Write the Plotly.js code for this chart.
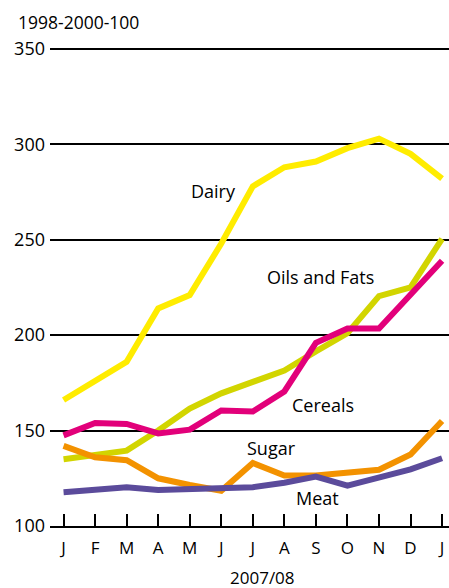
<!DOCTYPE html>
<html>
<head>
<meta charset="utf-8">
<script src="https://cdn.plot.ly/plotly-3.0.1.min.js"></script>
<style>html,body{margin:0;padding:0;background:#fff;}#chart{width:449px;height:588px;}</style>
</head>
<body>
<div id="chart"></div>
<script>
const months = ["J","F","M","A","M","J","J","A","S","O","N","D","J"];
const dairy = [166,176,186,214,221,248,278,288,291,298,303,295,282];
const oilsFats = [135,137,139.5,150,161.5,169.5,175.5,181.5,191.5,201,220.5,225,250.5];
const cereals = [147.5,154,153.5,148.5,150.5,160.5,160,170.5,196,203.5,203.5,221,239];
const sugar = [142,136,134.5,125,121.5,118.5,133,126.5,126.5,128,129.5,137.5,155];
const meat = [117.7,118.9,120.3,118.9,119.2,119.7,120.3,122.7,125.9,121.1,125,129.7,135.5];
const yTicks = [100,150,200,250,300,350];

const xIdx = months.map((m,i)=>i);
const FONT = "Open Sans, sans-serif";
function line(y, color){
  return {x:xIdx, y:y, type:'scatter', mode:'lines', line:{color:color, width:6}, hoverinfo:'skip', showlegend:false};
}
const data = [
  line(dairy,'#FFEC00'),
  line(oilsFats,'#D2D500'),
  line(sugar,'#F39200'),
  line(meat,'#5B4B9B'),
  line(cereals,'#E2007A')
];
// pixel -> paper helpers (plot area: left 50, width 399; top 47, bottom 526, height 479)
const px = p => (p-50)/399;
const py = p => (526-p)/479;
function lab(text, x, y, xa, size){
  return {text:text, xref:'paper', yref:'paper', x:px(x), y:py(y), xanchor:xa||'left', yanchor:'middle', showarrow:false, font:{family:FONT, size:size||18, color:'#000'}};
}
const layout = {
  width:449, height:588,
  margin:{l:50, r:0, t:47, b:62},
  paper_bgcolor:'#fff', plot_bgcolor:'#fff',
  font:{family:FONT, size:17, color:'#000'},
  xaxis:{
    range:[-0.43,12.22], tickmode:'array', tickvals:xIdx, ticktext:months,
    ticks:'inside', ticklen:12, tickwidth:2, tickcolor:'#000',
    showgrid:false, zeroline:false, showline:true, linecolor:'#000', linewidth:2,
    ticklabelstandoff:6, tickfont:{family:FONT, size:17, color:'#000'}
  },
  yaxis:{
    range:[100,351], tickmode:'array', tickvals:yTicks, ticktext:yTicks.map(String),
    ticks:'', showgrid:true, gridcolor:'#000', gridwidth:2, zeroline:false, showline:false,
    ticklabelstandoff:4, tickfont:{family:FONT, size:18, color:'#000'}
  },
  annotations:[
    lab('1998-2000-100', 16, 22, 'left', 17.5),
    lab('2007/08', 262, 577, 'center', 17),
    lab('Dairy', 189, 191),
    lab('Oils and Fats', 265, 277),
    lab('Cereals', 290, 405),
    lab('Sugar', 245, 448),
    lab('Meat', 294, 498)
  ]
};
Plotly.newPlot('chart', data, layout, {staticPlot:true, displayModeBar:false});
</script>
</body>
</html>
